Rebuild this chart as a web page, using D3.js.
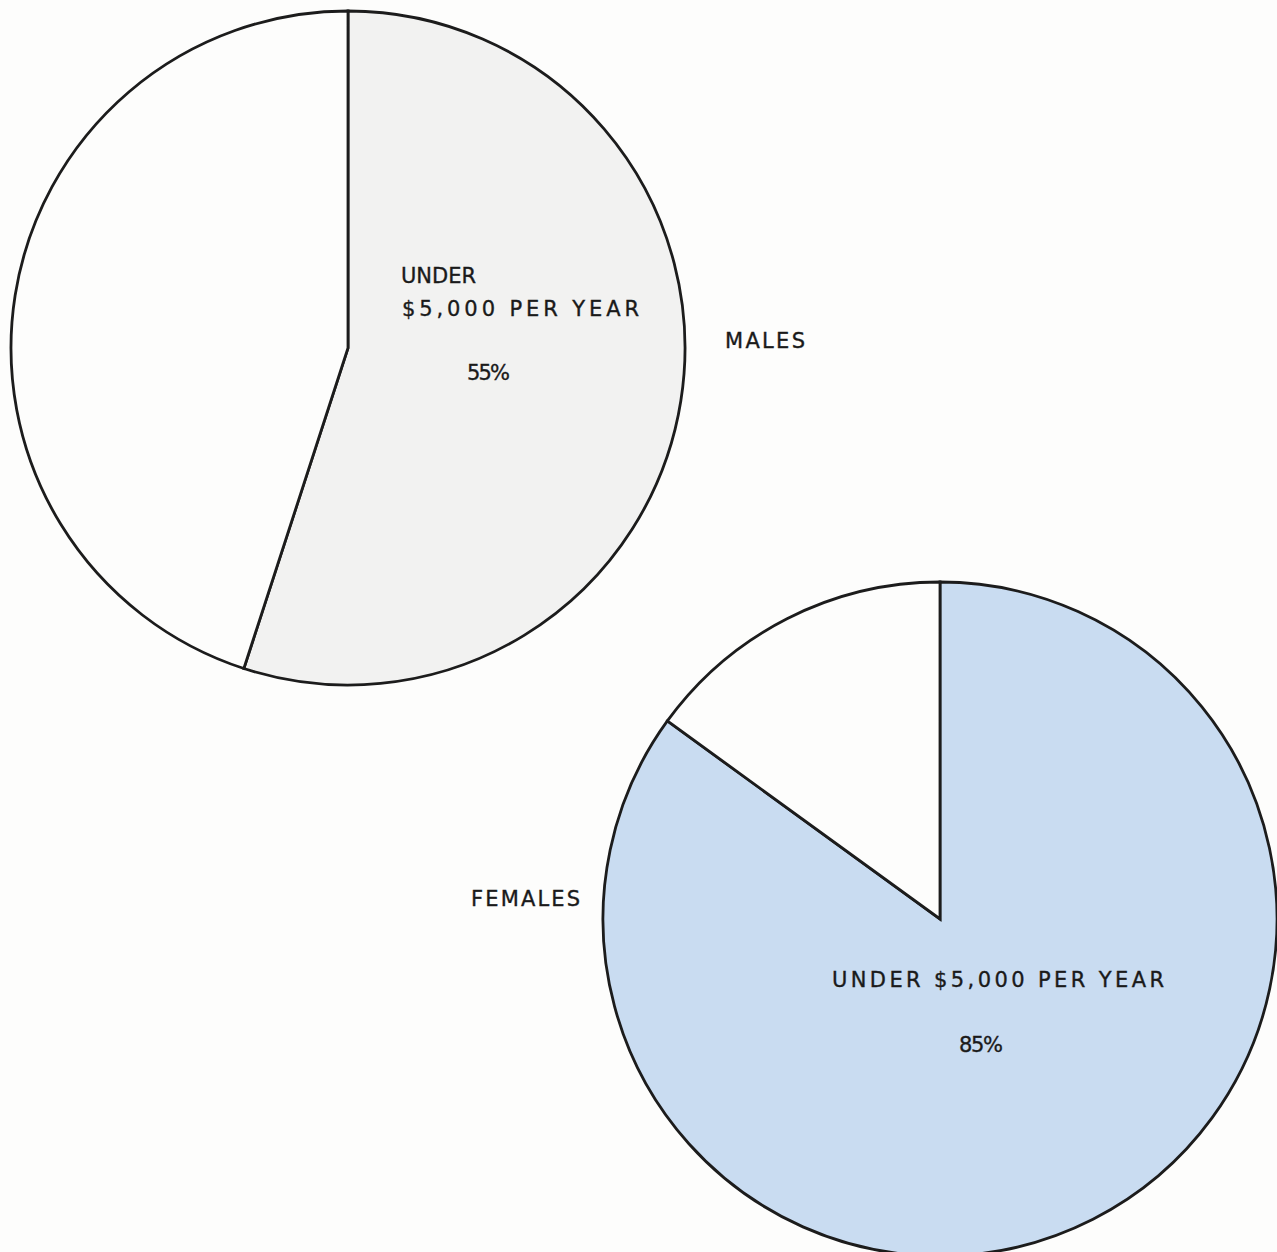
<!DOCTYPE html>
<html>
<head>
<meta charset="utf-8">
<script src="https://cdn.jsdelivr.net/npm/d3@7"></script>
<style>
  html, body { margin: 0; padding: 0; background: #fdfdfc; }
  svg { display: block; }
  text { font-family: "DejaVu Sans", sans-serif; fill: #1a1a1a; stroke: #1a1a1a; stroke-width: 0.35; }
</style>
</head>
<body>
<svg id="chart" width="1277" height="1252"></svg>
<script>
// Share of workers earning under $5,000 per year, by sex
const groups = ["MALES", "FEMALES"];
const underShare = [55, 85];
const sliceLines = [["UNDER", "$5,000 PER YEAR"], ["UNDER $5,000 PER YEAR"]];
const shareLabels = ["55%", "85%"];

const svg = d3.select("#chart");

// layout for each pie (centre, radius, fill, label placement)
const layout = [
  { cx: 348, cy: 348, r: 337, fill: "#f2f2f1",
    lines: [{ x: 401, y: 283, w: 75 }, { x: 402, y: 316, w: 237 }],
    pct: { x: 467, y: 380, w: 43 },
    name: { x: 725, y: 348, w: 80 } },
  { cx: 940, cy: 919, r: 337, fill: "#c9dcf1",
    lines: [{ x: 832, y: 987, w: 332 }],
    pct: { x: 959, y: 1052, w: 44 },
    name: { x: 471, y: 906, w: 109 } }
];

const pie = d3.pie().sort(null).value(d => d);

groups.forEach((g, i) => {
  const L = layout[i];
  const arcs = pie([underShare[i], 100 - underShare[i]]);
  const arc = d3.arc().innerRadius(0).outerRadius(L.r);
  const gp = svg.append("g").attr("transform", `translate(${L.cx},${L.cy})`);

  gp.selectAll("path")
    .data(arcs)
    .join("path")
    .attr("d", arc)
    .attr("fill", (d, j) => j === 0 ? L.fill : "#fdfdfc")
    .attr("stroke", "#1c1c1c")
    .attr("stroke-width", 2.8)
    .attr("stroke-linejoin", "miter");

  const txt = (s, p) => svg.append("text")
    .attr("x", p.x).attr("y", p.y)
    .attr("font-size", 21)
    .attr("textLength", p.w)
    .attr("lengthAdjust", "spacing")
    .text(s);

  sliceLines[i].forEach((s, k) => txt(s, L.lines[k]));
  txt(shareLabels[i], L.pct);
  txt(g, L.name);
});
</script>
</body>
</html>
